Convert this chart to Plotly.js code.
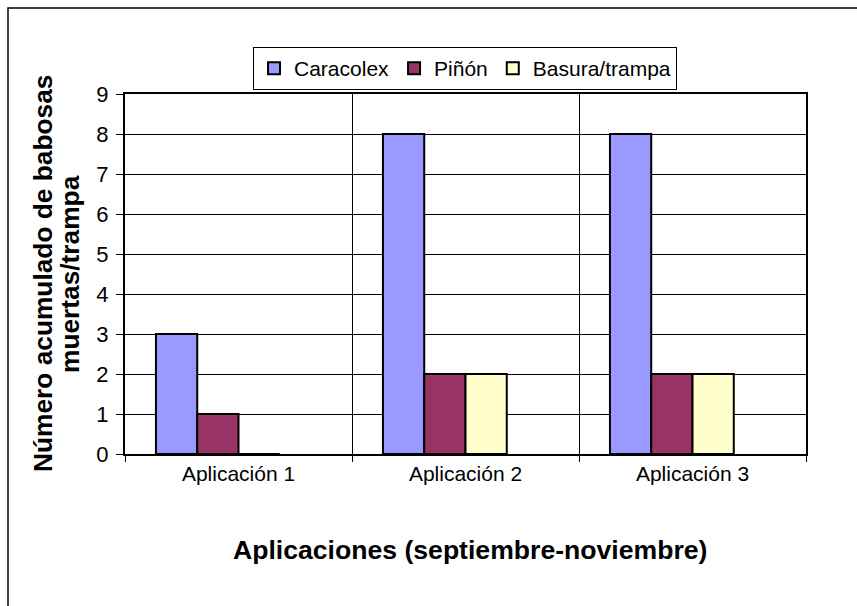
<!DOCTYPE html>
<html>
<head>
<meta charset="utf-8">
<script src="https://cdn.plot.ly/plotly-3.0.1.min.js"></script>
<style>html,body{margin:0;padding:0;background:#fff;}#chart{width:857px;height:606px;}</style>
</head>
<body>
<div id="chart"></div>
<script>
const categories = ["Aplicación 1", "Aplicación 2", "Aplicación 3"];
const caracolex = [3, 8, 8];
const pinon = [1, 2, 2];
const basura = [0, 2, 2];
const seriesNames = ["Caracolex", "Piñón", "Basura/trampa"];
const yTicks = [0, 1, 2, 3, 4, 5, 6, 7, 8, 9];

const FONT = "Arial, 'Liberation Sans', sans-serif";
const W = 1 / 5.5;
const colors = ["#9999FF", "#993366", "#FFFFCC"];
const values = [caracolex, pinon, basura];

const traces = values.map((v, i) => ({
  type: "bar",
  name: seriesNames[i],
  x: categories,
  y: v,
  width: W,
  offset: -0.5 + 0.75 * W + i * W,
  marker: {color: colors[i], line: {color: "#000", width: 2}},
  hoverinfo: "none"
}));

const layout = {
  width: 857, height: 606,
  margin: {l: 125, r: 51, t: 94, b: 152},
  paper_bgcolor: "#fff", plot_bgcolor: "#fff",
  font: {family: FONT, color: "#000", size: 21},
  barmode: "overlay",
  showlegend: true,
  legend: {
    orientation: "h", x: 0.4993, xanchor: "center", y: (454 - 47) / 360, yanchor: "top",
    bordercolor: "#000", borderwidth: 1, bgcolor: "#fff",
    font: {family: FONT, size: 21, color: "#000"},
    traceorder: "normal", itemwidth: 30
  },
  xaxis: {
    type: "category", range: [-0.5, 2.5], tickson: "boundaries",
    ticks: "outside", ticklen: 6, tickcolor: "#000", tickwidth: 1,
    showgrid: true, gridcolor: "#000", gridwidth: 1,
    showline: true, linecolor: "#000", linewidth: 2, mirror: true,
    tickfont: {family: FONT, size: 21, color: "#000"},
    fixedrange: true
  },
  yaxis: {
    range: [0, 9], tickvals: yTicks, ticktext: yTicks.map(String),
    ticks: "outside", ticklen: 7, tickcolor: "#000", tickwidth: 1,
    ticklabelstandoff: 3,
    showgrid: true, gridcolor: "#000", gridwidth: 1, zeroline: false,
    showline: true, linecolor: "#000", linewidth: 2, mirror: true,
    tickfont: {family: FONT, size: 22, color: "#000"},
    fixedrange: true
  },
  shapes: [{
    type: "rect", xref: "paper", yref: "paper",
    x0: (8 - 125) / 681, x1: 2, y0: -1, y1: (454 - 8) / 360,
    line: {color: "#000", width: 1.5}, fillcolor: "rgba(0,0,0,0)", layer: "below"
  }],
  annotations: [
    {
      text: "<b>Número acumulado de babosas</b>",
      xref: "paper", yref: "paper", x: (43 - 125) / 681, y: 0.5,
      xanchor: "center", yanchor: "middle", textangle: -90, showarrow: false,
      font: {family: FONT, size: 26.3, color: "#000"}
    },
    {
      text: "<b>muertas/trampa</b>",
      xref: "paper", yref: "paper", x: (70 - 125) / 681, y: 0.5,
      xanchor: "center", yanchor: "middle", textangle: -90, showarrow: false,
      font: {family: FONT, size: 26.3, color: "#000"}
    },
    {
      text: "<b>Aplicaciones (septiembre-noviembre)</b>",
      xref: "paper", yref: "paper", x: (470 - 125) / 681, y: (454 - 550) / 360,
      xanchor: "center", yanchor: "middle", showarrow: false,
      font: {family: FONT, size: 26.6, color: "#000"}
    }
  ]
};

Plotly.newPlot("chart", traces, layout, {displayModeBar: false, staticPlot: true});
</script>
</body>
</html>
